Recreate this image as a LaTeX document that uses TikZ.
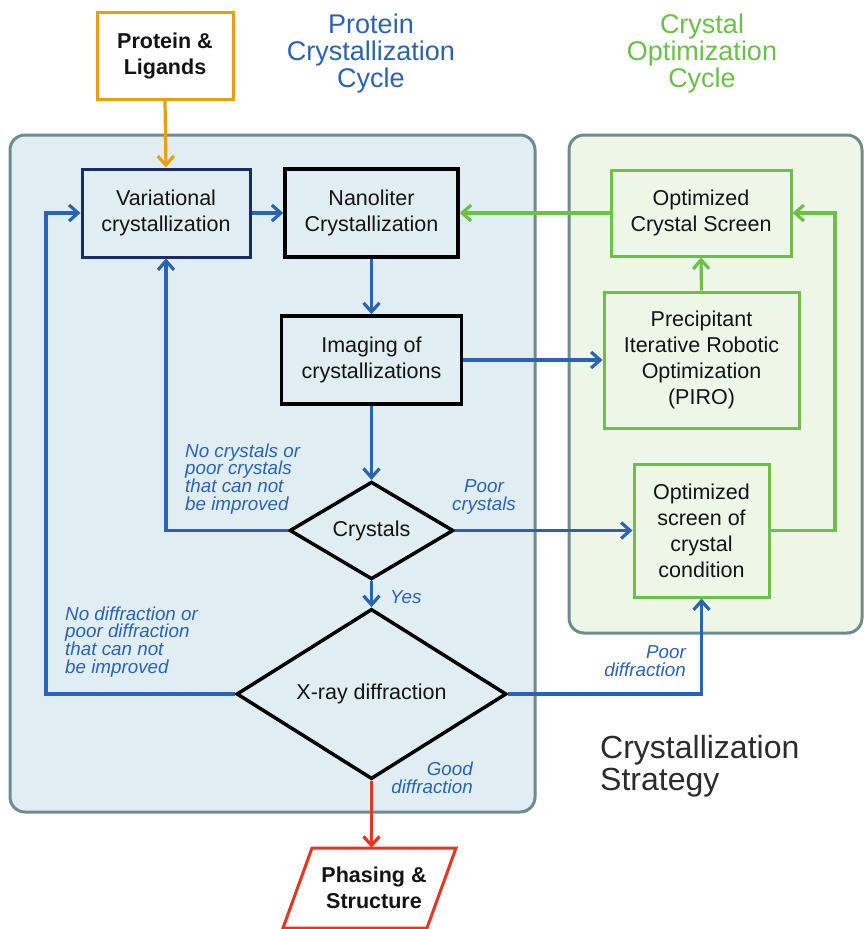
\documentclass[tikz,border=0pt]{standalone}
\usepackage{fontspec}
\setmainfont{Liberation Sans}
\usetikzlibrary{arrows.meta,shapes.geometric,calc}
\definecolor{cblue}{RGB}{43,99,179}
\definecolor{cgreen}{RGB}{108,192,74}
\definecolor{corange}{RGB}{230,160,20}
\definecolor{cred}{RGB}{228,54,35}
\definecolor{cnavy}{RGB}{30,40,110}
\definecolor{pfillL}{RGB}{224,238,244}
\definecolor{pfillR}{RGB}{238,246,232}
\definecolor{pborder}{RGB}{110,140,140}
\definecolor{ctext}{RGB}{20,20,20}
\begin{document}
\begin{tikzpicture}[x=1pt,y=-1pt,
  box/.style={draw, line width=3pt, inner sep=0pt, align=center, text=ctext,
    font=\fontsize{21.5}{26}\selectfont},
  bbox/.style={box, line width=3.5pt, draw=black},
  gbox/.style={box, draw=cgreen},
  dia/.style={diamond, draw=black, line width=3.5pt, inner sep=0pt, text=ctext,
    font=\fontsize{21.5}{26}\selectfont},
  note/.style={text=cblue, inner sep=0pt, font=\fontsize{18.8}{17.8}\selectfont\itshape},
  title/.style={inner sep=0pt, align=center, font=\fontsize{27}{27}\selectfont},
  panel/.style={draw=pborder, line width=3pt, rounded corners=15pt},
  tipa/.style={-{Straight Barb[length=9pt,width=16pt]}},
  arr/.style={tipa, line width=3.2pt, draw=cblue},
  garr/.style={tipa, line width=3.2pt, draw=cgreen},
]
\useasboundingbox (0,0) rectangle (864,929);
\fill[white] (0,0) rectangle (864,929);

% panels
\draw[panel, fill=pfillL] (10,135) rectangle (535,812);
\draw[panel, fill=pfillR] (569,135) rectangle (862,633);

% titles
\node[title, text=cblue] (t1) at (371,54) {Protein\\Crystallization\\Cycle};
\node[title, text=cgreen] (t2) at (702,54) {Crystal\\Optimization\\Cycle};
\node[inner sep=0pt, align=left, anchor=west, text=ctext!90,
  font=\fontsize{32}{32}\selectfont] (strat) at (600,766) {Crystallization\\Strategy};

% boxes
\node[box, draw=corange, fill=white, minimum width=136pt, minimum height=87pt,
  font=\fontsize{21.5}{26}\selectfont\bfseries] (prot) at (165,55.5) {Protein \&\\Ligands};
\node[box, draw=cnavy, minimum width=168pt, minimum height=88pt] (var) at (166,213) {Variational\\crystallization};
\node[bbox, minimum width=173pt, minimum height=88pt] (nano) at (371.5,213) {Nanoliter\\Crystallization};
\node[bbox, minimum width=180pt, minimum height=88pt] (img) at (371.5,360) {Imaging of\\crystallizations};
\node[gbox, minimum width=180pt, minimum height=86pt] (ocs) at (701,213) {Optimized\\Crystal Screen};
\node[gbox, minimum width=195pt, minimum height=136pt] (piro) at (701.5,360) {Precipitant\\Iterative Robotic\\Optimization\\(PIRO)};
\node[gbox, minimum width=135pt, minimum height=133pt] (oscc) at (701.5,530.5) {Optimized\\screen of\\crystal\\condition};
\node[dia, minimum width=164pt, minimum height=96pt] (cry) at (371.5,530.5) {Crystals};
\node[dia, minimum width=270pt, minimum height=160pt] (xray) at (371.5,694) {X-ray diffraction};

% phasing parallelogram
\node[inner sep=0pt, align=center, minimum height=80pt, text=ctext,
  font=\fontsize{21.5}{26}\selectfont\bfseries] (phase) at (374,888) {Phasing \&\\Structure};
\draw[cred, line width=3pt, line join=miter]
  ($(phase)+(-91,40)$) -- ($(phase)+(53,40)$) -- ($(phase)+(82,-40)$) -- ($(phase)+(-62,-40)$) -- cycle;

% helper coordinates
\coordinate (lx) at (46,213);
\coordinate (rx) at (835,213);

% connectors
\draw[tipa, line width=3.2pt, draw=corange] (prot.south) -- (var.north);
\draw[arr] (var.east) -- (nano.west);
\draw[arr] (nano.south) -- (img.north);
\draw[arr] (img.south) -- (cry.north);
\draw[arr] (cry.south) -- (xray.north);
\draw[arr] (img.east) -- (piro.west);
\draw[arr] (cry.east) -- (oscc.west);
\draw[arr] (cry.west) -| (var.south);
\draw[arr] (xray.west) -| (lx) -- (var.west);
\draw[arr] (xray.east) -| (oscc.south);
\draw[garr] (ocs.west) -- (nano.east);
\draw[garr] (piro.north) -- (ocs.south);
\draw[garr] (oscc.east) -| (rx) -- (ocs.east);
\draw[tipa, line width=3.2pt, draw=cred] (xray.south) -- (xray.south |- phase.north);

% labels
\node[note, align=left, anchor=west] (l1) at (185,479) {No crystals or\\poor crystals\\that can not\\be improved};
\node[note, align=center] (l2) at (484,497) {Poor\\crystals};
\node[note, anchor=west] (l3) at (390,597) {Yes};
\node[note, align=left, anchor=west] (l4) at (65,642) {No diffraction or\\poor diffraction\\that can not\\be improved};
\node[note, align=right, anchor=east] (l5) at (473,778) {Good\\diffraction};
\node[note, align=right, anchor=east] (l6) at (686,661) {Poor\\diffraction};
\end{tikzpicture}
\end{document}
